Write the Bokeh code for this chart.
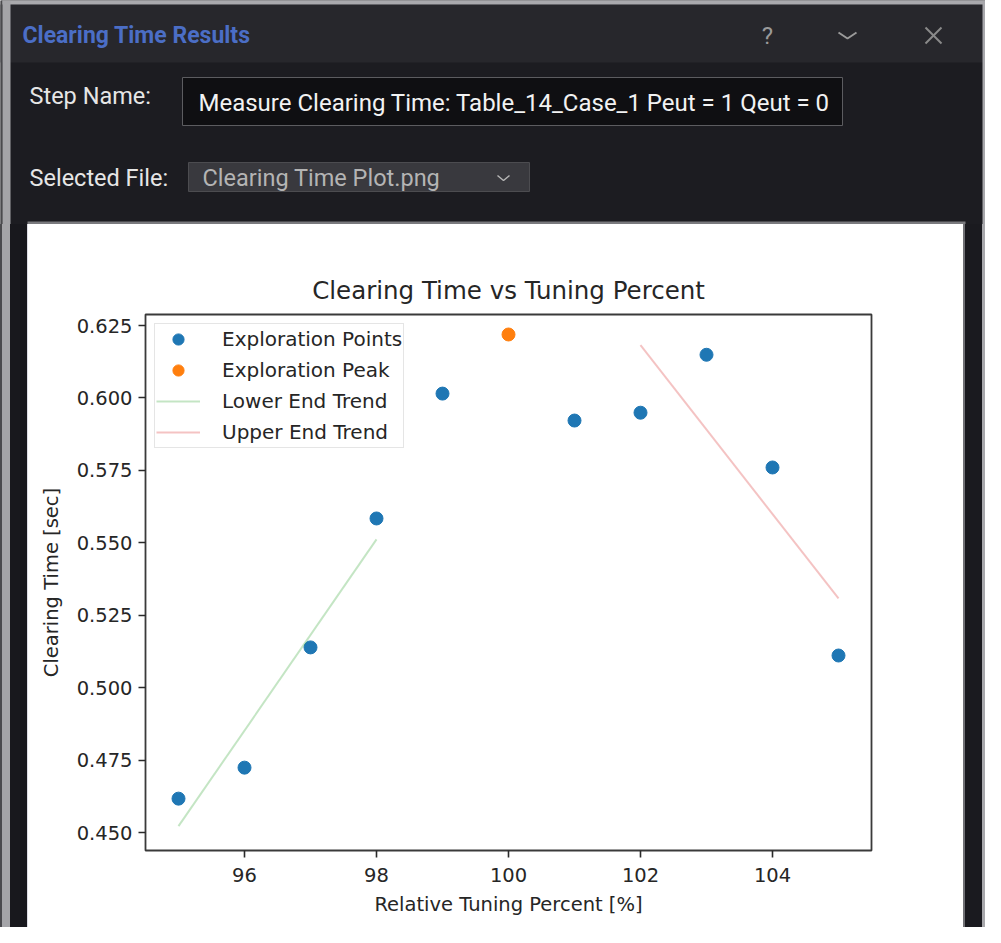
from bokeh.plotting import figure
from bokeh.layouts import column, row
from bokeh.models import Range1d, FixedTicker, NumeralTickFormatter, Div
from bokeh.core.properties import value
from bokeh.embed import file_html
from bokeh.resources import INLINE

# ---------------- data ----------------
points_x = [95, 96, 97, 98, 99, 101, 102, 103, 104, 105]
points_y = [0.4617, 0.4724, 0.5139, 0.5584, 0.6015, 0.5922, 0.5949, 0.6149, 0.5760, 0.5111]
peak_x = [100]
peak_y = [0.6219]
lower_trend_x = [95, 98]
lower_trend_y = [0.4522, 0.5512]
upper_trend_x = [102, 105]
upper_trend_y = [0.6182, 0.5308]
x_ticks = [96, 98, 100, 102, 104]
y_ticks = [0.450, 0.475, 0.500, 0.525, 0.550, 0.575, 0.600, 0.625]

title_text = "Clearing Time vs Tuning Percent"
x_label = "Relative Tuning Percent [%]"
y_label = "Clearing Time [sec]"
dialog_title = "Clearing Time Results"
step_label = "Step Name:"
step_name = "Measure Clearing Time: Table_14_Case_1 Peut = 1 Qeut = 0"
file_label = "Selected File:"
file_name = "Clearing Time Plot.png"

W, HEAD_H, CHART_W, CHART_H = 985, 224, 935, 703
LEFT_W = 28
RIGHT_W = W - LEFT_W - CHART_W

DARK = "#1c1c21"
UI_FONT = "Roboto"
MPL_FONT = "DejaVu Sans"


def blank(width, height):
    f = figure(width=width, height=height, x_range=Range1d(0, width),
               y_range=Range1d(height, 0), output_backend="svg",
               toolbar_location=None, min_border=0,
               background_fill_color=DARK, border_fill_color=DARK)
    f.axis.visible = False
    f.grid.visible = False
    f.outline_line_color = None
    return f


# ---------------- header (dialog chrome) ----------------
h = blank(W, HEAD_H)
h.quad(left=[0], right=[W], top=[4], bottom=[62], fill_color="#27272c", line_color=None)
h.quad(left=[0], right=[W], top=[0], bottom=[4], fill_color="#a9a9ad", line_color=None)
h.quad(left=[0, 2, W - 3], right=[2, 10, W], top=[0, 0, 0], bottom=[HEAD_H] * 3,
       fill_color=["#4a4a4e", "#a4a4a8", "#a8a8ac"], line_color=None)
h.text(x=[22], y=[35], text=[dialog_title], text_font=value(UI_FONT),
       text_font_size=value("23px"), text_font_style="bold",
       text_color="#4b6ec6", text_baseline="middle")
h.text(x=[767], y=[35], text=["?"], text_font=value(UI_FONT),
       text_font_size=value("24px"), text_color="#9a9a9a",
       text_baseline="middle", text_align="center")
h.line(x=[838, 847, 856], y=[32, 38, 32], line_color="#9a9a9a", line_width=2)
h.line(x=[925, 941], y=[27, 43], line_color="#8a8a8a", line_width=2)
h.line(x=[925, 941], y=[43, 27], line_color="#8a8a8a", line_width=2)

h.text(x=[29], y=[95], text=[step_label], text_font=value(UI_FONT),
       text_font_size=value("23.5px"), text_color="#e6e6e6", text_baseline="middle")
h.quad(left=[182], right=[842], top=[77], bottom=[125], fill_color="#0f0f12",
       line_color="#5c5c60", line_width=1)
h.text(x=[198], y=[102], text=[step_name], text_font=value(UI_FONT),
       text_font_size=value("24px"), text_color="#f2f2f2", text_baseline="middle")

h.text(x=[29], y=[177], text=[file_label], text_font=value(UI_FONT),
       text_font_size=value("23.5px"), text_color="#e6e6e6", text_baseline="middle")
h.quad(left=[188], right=[529], top=[162], bottom=[191], fill_color="#39393e",
       line_color="#4c4c50", line_width=1)
h.text(x=[202], y=[177], text=[file_name], text_font=value(UI_FONT),
       text_font_size=value("23.5px"), text_color="#b4b4b4", text_baseline="middle")
h.line(x=[497, 503, 509], y=[175, 180, 175], line_color="#b4b4b4", line_width=1.5)
h.quad(left=[LEFT_W - 1], right=[LEFT_W + CHART_W + 2], top=[221], bottom=[HEAD_H],
       fill_color="#7a7a7e", line_color=None)

# ---------------- side strips (plain CSS colour bands) ----------------
lft = Div(text="", width=LEFT_W, height=CHART_H, margin=0,
          styles={"background": "linear-gradient(to right, #4a4a4e 0px, #4a4a4e 2px, "
                  "#a4a4a8 2px, #a4a4a8 10px, #18181d 10px, #18181d 27px, "
                  "#dcdce4 27px, #dcdce4 28px)"})
rgt = Div(text="", width=RIGHT_W, height=CHART_H, margin=0,
          styles={"background": "linear-gradient(to right, #707074 0px, #707074 2px, "
                  "#1a1a1f 2px, #1a1a1f 19px, #a8a8ac 19px, #a8a8ac 22px)"})

# ---------------- chart ----------------
p = figure(width=CHART_W, height=CHART_H, title=title_text,
           x_range=Range1d(94.5, 105.5), y_range=Range1d(0.4438, 0.6288),
           output_backend="svg", toolbar_location=None,
           min_border_left=117, min_border_right=92, min_border_top=90, min_border_bottom=77,
           background_fill_color="white", border_fill_color="white")
p.grid.visible = False
p.outline_line_color = "#3a3a3a"
p.outline_line_width = 1.8

p.title.text_font = MPL_FONT
p.title.text_font_size = "24.5px"
p.title.text_font_style = "normal"
p.title.text_color = "#262626"
p.title.align = "center"
p.title.standoff = 19

p.xaxis.ticker = FixedTicker(ticks=x_ticks)
p.yaxis.ticker = FixedTicker(ticks=y_ticks)
p.yaxis.formatter = NumeralTickFormatter(format="0.000")
p.xaxis.axis_label = x_label
p.yaxis.axis_label = y_label
for ax in (p.xaxis, p.yaxis):
    ax.axis_line_color = None
    ax.major_tick_out = 7
    ax.major_tick_in = 0
    ax.major_tick_line_width = 1.6
    ax.major_tick_line_color = "#2a2a2a"
    ax.minor_tick_line_color = None
    ax.major_label_text_font = MPL_FONT
    ax.major_label_text_font_size = "19.5px"
    ax.major_label_text_color = "#262626"
    ax.axis_label_text_font = MPL_FONT
    ax.axis_label_text_font_size = "19.5px"
    ax.axis_label_text_font_style = "normal"
    ax.axis_label_text_color = "#262626"
p.xaxis.major_label_standoff = 10
p.yaxis.major_label_standoff = 6
p.xaxis.axis_label_standoff = 8
p.yaxis.axis_label_standoff = 11

p.scatter(points_x, points_y, size=13, fill_color="#1f77b4", line_color="#1f77b4",
          legend_label="Exploration Points")
p.scatter(peak_x, peak_y, size=13, fill_color="#ff7f0e", line_color="#ff7f0e",
          legend_label="Exploration Peak")
p.line(lower_trend_x, lower_trend_y, line_color="#2ca02c", line_alpha=0.28, line_width=2,
       legend_label="Lower End Trend")
p.line(upper_trend_x, upper_trend_y, line_color="#d62728", line_alpha=0.28, line_width=2,
       legend_label="Upper End Trend")

lg = p.legend[0]
lg.location = "top_left"
lg.margin = 9
lg.padding = 1
lg.spacing = 3
lg.glyph_width = 44
lg.glyph_height = 28
lg.label_height = 28
lg.label_standoff = 22
lg.label_text_font = MPL_FONT
lg.label_text_font_size = "20px"
lg.label_text_color = "#262626"
lg.border_line_color = "#cccccc"
lg.border_line_width = 1.5
lg.background_fill_alpha = 0.8

layout = column(h, row(lft, p, rgt, spacing=0), spacing=0)

with open("out.html", "w") as f:
    f.write(file_html(layout, INLINE))
